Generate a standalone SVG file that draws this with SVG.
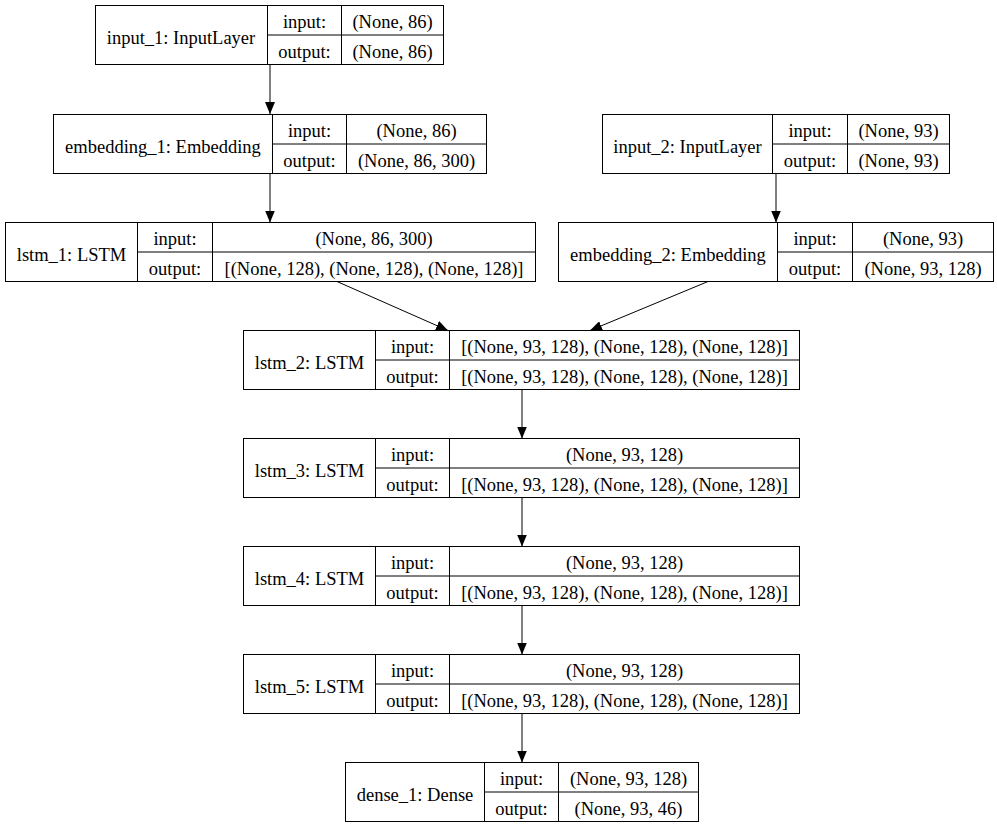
<svg xmlns="http://www.w3.org/2000/svg" width="997" height="827" viewBox="0 0 997 827">
<style>
.b{fill:none;stroke:#000;stroke-width:1}
.t text{font-size:18.5px;fill:#000;text-anchor:middle}
.e{fill:none;stroke:#000;stroke-width:1}
</style>
<defs>
<marker id="ah" viewBox="0 0 12 10" refX="12" refY="5" markerWidth="12" markerHeight="10" markerUnits="userSpaceOnUse" orient="auto">
<path d="M0,0 L12,5 L0,10 z" fill="#000"/>
</marker>
</defs>
<rect width="997" height="827" fill="#fff"/>
<g id="edges">
<line class="e" x1="270" y1="64" x2="270" y2="114" marker-end="url(#ah)"/>
<line class="e" x1="270" y1="173" x2="270" y2="222.5" marker-end="url(#ah)"/>
<line class="e" x1="776" y1="173" x2="776" y2="222.5" marker-end="url(#ah)"/>
<line class="e" x1="337" y1="281.5" x2="448" y2="330.5" marker-end="url(#ah)"/>
<line class="e" x1="708" y1="281.5" x2="590" y2="330.5" marker-end="url(#ah)"/>
<line class="e" x1="522" y1="389.5" x2="522" y2="438.5" marker-end="url(#ah)"/>
<line class="e" x1="522" y1="497.5" x2="522" y2="546.5" marker-end="url(#ah)"/>
<line class="e" x1="522" y1="605.5" x2="522" y2="654.5" marker-end="url(#ah)"/>
<line class="e" x1="522" y1="713.5" x2="522" y2="762.5" marker-end="url(#ah)"/>
</g>
<g class="t" font-family="'Liberation Serif', Tinos, 'Times New Roman', 'DejaVu Serif', serif">
<g id="input_1">
<rect class="b" x="95.5" y="5.5" width="348" height="59"/>
<path class="b" d="M267.5,5.5V64.5M341.5,5.5V64.5M267.5,35H443.5"/>
<text x="181" y="44">input_1: InputLayer</text>
<text x="304.5" y="28">input:</text><text x="392.5" y="28">(None, 86)</text>
<text x="304.5" y="57.5">output:</text><text x="392.5" y="57.5">(None, 86)</text>
</g>
<g id="embedding_1">
<rect class="b" x="53.5" y="114.5" width="433" height="59"/>
<path class="b" d="M272.5,114.5V173.5M346.5,114.5V173.5M272.5,144H486.5"/>
<text x="163" y="153">embedding_1: Embedding</text>
<text x="309.5" y="137">input:</text><text x="416.5" y="137">(None, 86)</text>
<text x="309.5" y="166.5">output:</text><text x="416.5" y="166.5">(None, 86, 300)</text>
</g>
<g id="input_2">
<rect class="b" x="602.5" y="114.5" width="347" height="59"/>
<path class="b" d="M772.5,114.5V173.5M847.5,114.5V173.5M772.5,144H949.5"/>
<text x="687.5" y="153">input_2: InputLayer</text>
<text x="810" y="137">input:</text><text x="898.5" y="137">(None, 93)</text>
<text x="810" y="166.5">output:</text><text x="898.5" y="166.5">(None, 93)</text>
</g>
<g id="lstm_1">
<rect class="b" x="5.5" y="222.5" width="530" height="59"/>
<path class="b" d="M137.5,222.5V281.5M212.5,222.5V281.5M137.5,252H535.5"/>
<text x="71.5" y="261">lstm_1: LSTM</text>
<text x="175" y="245">input:</text><text x="374" y="245">(None, 86, 300)</text>
<text x="175" y="274.5">output:</text><text x="374" y="274.5">[(None, 128), (None, 128), (None, 128)]</text>
</g>
<g id="embedding_2">
<rect class="b" x="558.5" y="222.5" width="435" height="59"/>
<path class="b" d="M777.5,222.5V281.5M852.5,222.5V281.5M777.5,252H993.5"/>
<text x="668" y="261">embedding_2: Embedding</text>
<text x="815" y="245">input:</text><text x="923" y="245">(None, 93)</text>
<text x="815" y="274.5">output:</text><text x="923" y="274.5">(None, 93, 128)</text>
</g>
<g id="lstm_2">
<rect class="b" x="243.5" y="330.5" width="556" height="59"/>
<path class="b" d="M375.5,330.5V389.5M449.5,330.5V389.5M375.5,360H799.5"/>
<text x="309.5" y="369">lstm_2: LSTM</text>
<text x="412.5" y="353">input:</text><text x="624.5" y="353">[(None, 93, 128), (None, 128), (None, 128)]</text>
<text x="412.5" y="382.5">output:</text><text x="624.5" y="382.5">[(None, 93, 128), (None, 128), (None, 128)]</text>
</g>
<g id="lstm_3">
<rect class="b" x="243.5" y="438.5" width="556" height="59"/>
<path class="b" d="M375.5,438.5V497.5M449.5,438.5V497.5M375.5,468H799.5"/>
<text x="309.5" y="477">lstm_3: LSTM</text>
<text x="412.5" y="461">input:</text><text x="624.5" y="461">(None, 93, 128)</text>
<text x="412.5" y="490.5">output:</text><text x="624.5" y="490.5">[(None, 93, 128), (None, 128), (None, 128)]</text>
</g>
<g id="lstm_4">
<rect class="b" x="243.5" y="546.5" width="556" height="59"/>
<path class="b" d="M375.5,546.5V605.5M449.5,546.5V605.5M375.5,576H799.5"/>
<text x="309.5" y="585">lstm_4: LSTM</text>
<text x="412.5" y="569">input:</text><text x="624.5" y="569">(None, 93, 128)</text>
<text x="412.5" y="598.5">output:</text><text x="624.5" y="598.5">[(None, 93, 128), (None, 128), (None, 128)]</text>
</g>
<g id="lstm_5">
<rect class="b" x="243.5" y="654.5" width="556" height="59"/>
<path class="b" d="M375.5,654.5V713.5M449.5,654.5V713.5M375.5,684H799.5"/>
<text x="309.5" y="693">lstm_5: LSTM</text>
<text x="412.5" y="677">input:</text><text x="624.5" y="677">(None, 93, 128)</text>
<text x="412.5" y="706.5">output:</text><text x="624.5" y="706.5">[(None, 93, 128), (None, 128), (None, 128)]</text>
</g>
<g id="dense_1">
<rect class="b" x="345.5" y="762.5" width="353" height="59"/>
<path class="b" d="M484.5,762.5V821.5M558.5,762.5V821.5M484.5,792H698.5"/>
<text x="415" y="801">dense_1: Dense</text>
<text x="521.5" y="785">input:</text><text x="628.5" y="785">(None, 93, 128)</text>
<text x="521.5" y="814.5">output:</text><text x="628.5" y="814.5">(None, 93, 46)</text>
</g>
</g>
</svg>
